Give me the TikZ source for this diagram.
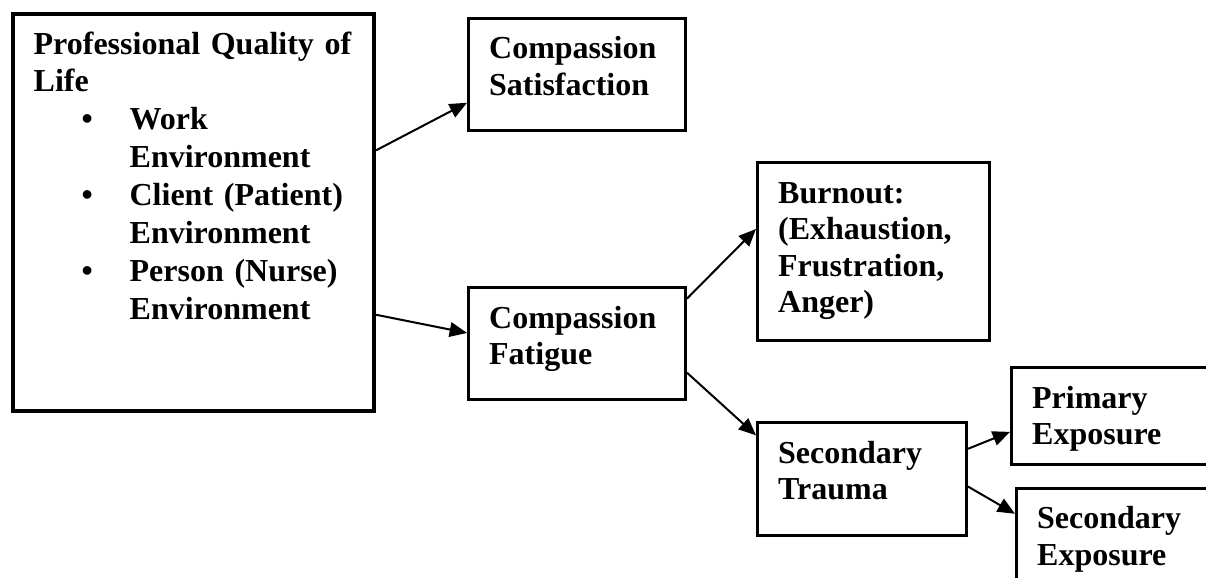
\documentclass[tikz,border=0pt]{standalone}
\usepackage{fontspec}
\setmainfont{Liberation Serif}
\usetikzlibrary{arrows.meta,calc}

\newcommand{\bul}{\hspace*{36pt}\makebox[36pt][l]{\textbullet}}
\newcommand{\ind}{\hspace*{72pt}}

\tikzset{
	box/.style={draw,line width=2.25pt,anchor=north west,align=left,inner xsep=15.5pt,
		inner ysep=0pt,text height=30.4pt,font=\fontsize{24}{27.4}\selectfont\bfseries},
	link/.style={-{Triangle[length=13pt,width=11pt]},line width=1.5pt},
}

\begin{document}
\begin{tikzpicture}[x=0.75pt,y=-0.75pt]
	\useasboundingbox (0,0) rectangle (1206,578);
	\clip (0,0) rectangle (1206,578);
	
	%Quality of life
	\node[box,line width=3pt,text width=239.75pt,text height=30pt,text depth=267.75pt,
		font=\fontsize{24}{28.4}\selectfont\bfseries] (pqol) at (11,12)
		{Professional Quality of\\Life\\
		\bul Work\\ \ind Environment\\
		\bul Client (Patient)\\ \ind Environment\\
		\bul Person (Nurse)\\ \ind Environment};
	
	%Satisfaction and fatigue
	\node[box,text width=131.75pt,text depth=53.6pt] (csat) at (467,16.5) {Compassion\\Satisfaction};
	\node[box,text width=131.75pt,text depth=53.25pt] (cfat) at (467,286) {Compassion\\Fatigue};
	
	%Burnout
	\node[box,text width=143pt,text depth=103pt] (burn) at (756,161) {Burnout:\\(Exhaustion,\\Frustration,\\Anger)};
	
	%Trauma
	\node[box,text width=125.75pt,text depth=54.2pt] (strauma) at (756,421) {Secondary\\Trauma};
	\node[box,text width=164pt,text depth=42.2pt] (pexp) at (1010,366) {Primary\\Exposure};
	\node[box,text width=164pt,text depth=44.6pt] (sexp) at (1015,486.5) {Secondary\\Exposure};
	
	%Arrows
	\draw[link] ($(pqol.north east)!0.345!(pqol.south east)$) -- ($(csat.north west)!0.75!(csat.south west)$);
	\draw[link] ($(pqol.north east)!0.755!(pqol.south east)$) -- ($(cfat.north west)!0.41!(cfat.south west)$);
	\draw[link] ($(cfat.north east)!0.11!(cfat.south east)$) -- ($(burn.north west)!0.376!(burn.south west)$);
	\draw[link] ($(cfat.north east)!0.757!(cfat.south east)$) -- ($(strauma.north west)!0.124!(strauma.south west)$);
	\draw[link] ($(strauma.north east)!0.24!(strauma.south east)$) -- ($(pexp.north west)!0.66!(pexp.south west)$);
	\draw[link] ($(strauma.north east)!0.566!(strauma.south east)$) -- ($(sexp.north west)!0.265!(sexp.south west)$);
	
\end{tikzpicture}
\end{document}
